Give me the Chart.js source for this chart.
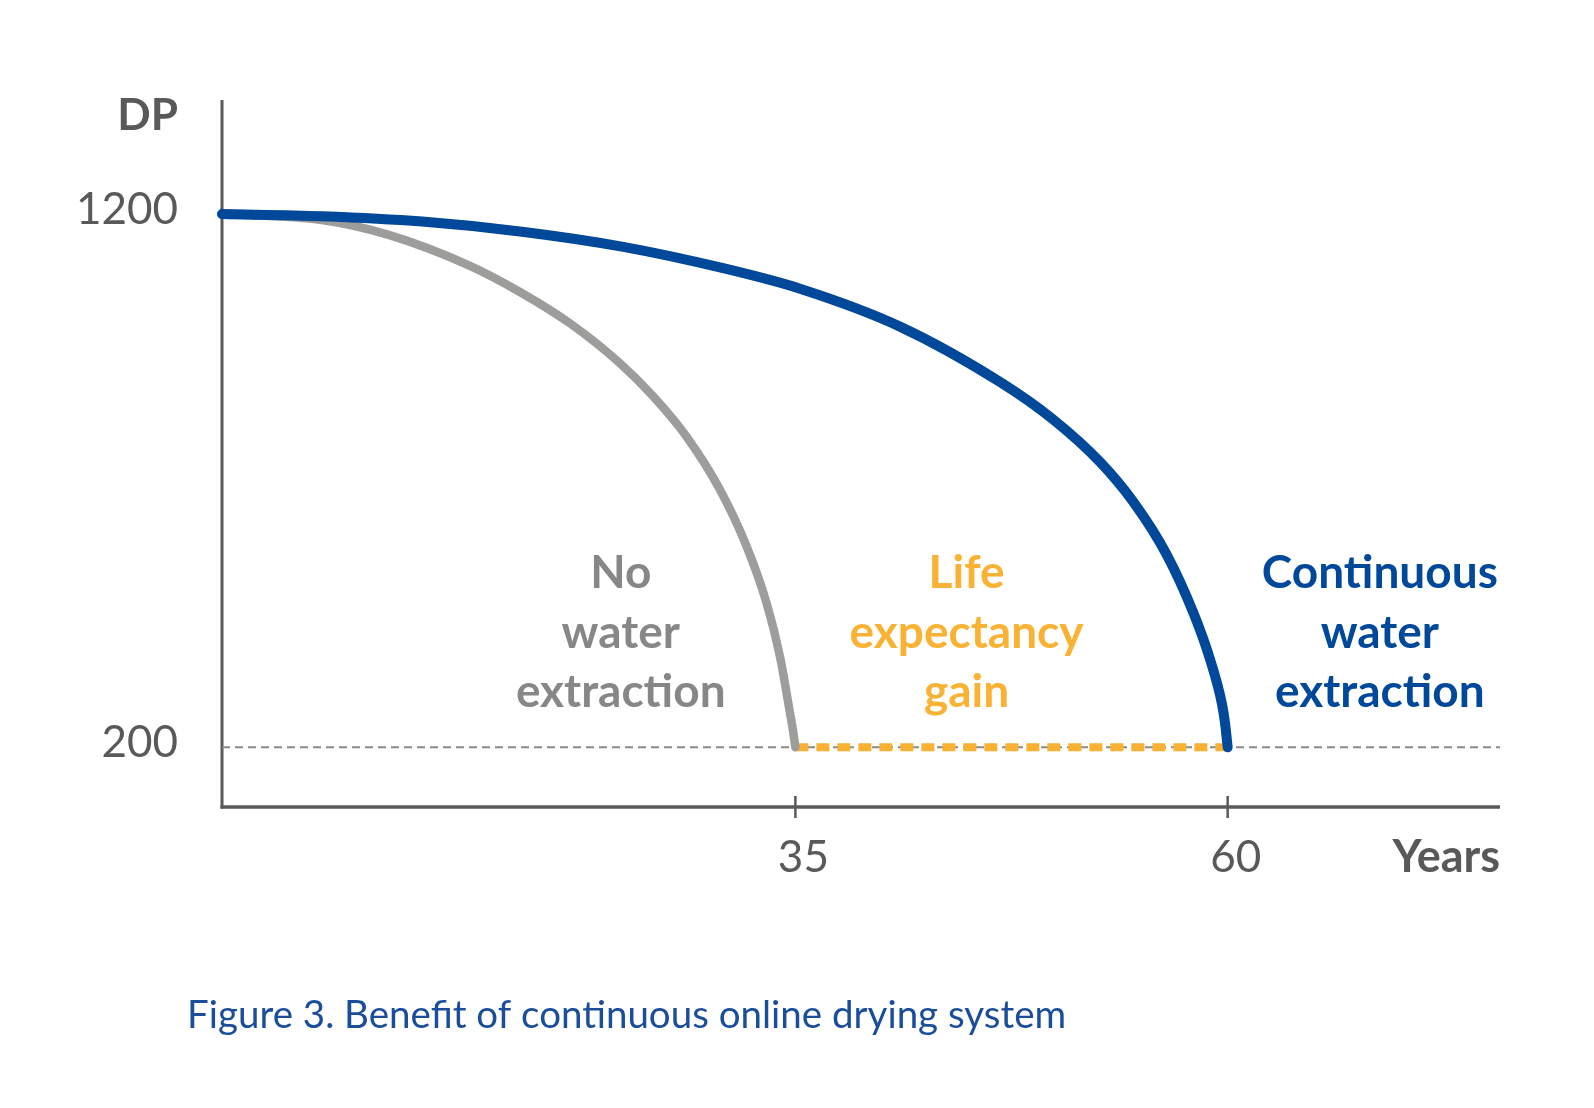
<!DOCTYPE html>
<html>
<head>
<meta charset="utf-8">
<title>Figure 3. Benefit of continuous online drying system</title>
<script src="https://cdn.jsdelivr.net/npm/chart.js@4/dist/chart.umd.min.js"></script>
<style>
  html, body { margin: 0; padding: 0; background: #ffffff; }
  #wrap { width: 1594px; height: 1108px; position: relative; }
</style>
</head>
<body>
<div id="wrap"><canvas id="dp-chart" width="1594" height="1108"></canvas></div>
<script>
// ---- data ----
const xTicks = [35, 60];
const yTicks = [200, 1200];
const endOfLifeDP = 200;

// no water extraction (grey curve)
const noExtractionYears = [1.84, 7.62, 11.48, 16.18, 19.07, 21.97, 24.86, 26.78, 28.72, 30.64, 32.19, 33.34, 34.11, 34.69, 34.86, 35];
const noExtractionDP    = [1200, 1189, 1161, 1103, 1054, 995, 920, 858, 782, 683, 576, 470, 370, 264, 232, 200];

// continuous water extraction (blue curve)
const continuousYears = [1.84, 7.62, 13.41, 19.19, 24.97, 30.76, 35.27, 41.05, 46.84, 49.90, 52.62, 54.55, 56.48, 58.02, 58.99, 59.66, 59.85, 60];
const continuousDP    = [1200, 1196, 1186, 1167, 1139, 1099, 1060, 989, 885, 815, 735, 660, 561, 452, 364, 283, 245, 200];

// life expectancy gain (orange dashed segment)
const gainYears = [35, 60];

const xRange = [1.84, 75.75];
const yRange = [88, 1414];

const labelBlocks = [
    { lines: ['No', 'water', 'extraction'], year: 24.9, color: '#878787' },
    { lines: ['Life', 'expectancy', 'gain'], year: 44.9, color: '#f9b233' },
    { lines: ['Continuous', 'water', 'extraction'], year: 68.8, color: '#00489a' }
];

const FONT = 'Lato, "Open Sans", "Liberation Sans", sans-serif';
const AXIS = '#595959';

const pts = (xs, ys) => xs.map((x, i) => ({ x: x, y: ys[i] }));

// axes, tick marks and all the texts
const figurePlugin = {
    id: 'figure',
    beforeDatasetsDraw(chart) {
        const { ctx, chartArea: a, scales: { x } } = chart;
        ctx.save();
        ctx.strokeStyle = AXIS;
        ctx.lineCap = 'butt';
        // y axis
        ctx.lineWidth = 3;
        ctx.beginPath();
        ctx.moveTo(a.left, a.top);
        ctx.lineTo(a.left, a.bottom + 1.5);
        ctx.stroke();
        // x axis
        ctx.lineWidth = 3.5;
        ctx.beginPath();
        ctx.moveTo(a.left - 1.5, a.bottom);
        ctx.lineTo(a.right, a.bottom);
        ctx.stroke();
        // tick marks crossing the x axis
        ctx.lineWidth = 2.5;
        xTicks.forEach(t => {
            const px = x.getPixelForValue(t);
            ctx.beginPath();
            ctx.moveTo(px, a.bottom - 11);
            ctx.lineTo(px, a.bottom + 11);
            ctx.stroke();
        });
        ctx.restore();
    },
    afterDraw(chart) {
        const { ctx, chartArea: a, scales: { x, y } } = chart;
        ctx.save();
        ctx.fillStyle = AXIS;
        ctx.textBaseline = 'alphabetic';

        // y tick labels + title
        ctx.font = '44px ' + FONT;
        ctx.textAlign = 'right';
        yTicks.forEach(t => ctx.fillText(String(t), 178, y.getPixelForValue(t) + 10));
        ctx.font = 'bold 44px ' + FONT;
        ctx.fillText('DP', 178, 130);

        // x tick labels + title
        ctx.font = '44px ' + FONT;
        ctx.textAlign = 'center';
        xTicks.forEach(t => ctx.fillText(String(t), x.getPixelForValue(t) + 8, 872));
        ctx.font = 'bold 45px ' + FONT;
        ctx.textAlign = 'right';
        ctx.fillText('Years', a.right, 872);

        // curve labels
        ctx.font = 'bold 46px ' + FONT;
        ctx.textAlign = 'center';
        labelBlocks.forEach(b => {
            ctx.fillStyle = b.color;
            b.lines.forEach((ln, i) => ctx.fillText(ln, x.getPixelForValue(b.year), 588 + i * 59.5));
        });

        // caption
        ctx.fillStyle = '#1a4d9a';
        ctx.font = '38.5px ' + FONT;
        ctx.textAlign = 'left';
        ctx.fillText('Figure 3. Benefit of continuous online drying system', 187, 1028);
        ctx.restore();
    }
};

new Chart(document.getElementById('dp-chart'), {
    type: 'scatter',
    data: {
        datasets: [
            { label: 'Continuous water extraction', data: pts(continuousYears, continuousDP), showLine: true, borderColor: '#00489a', borderWidth: 10, borderCapStyle: 'round', borderJoinStyle: 'round', cubicInterpolationMode: 'monotone', pointRadius: 0, clip: false },
            { label: 'No water extraction', data: pts(noExtractionYears, noExtractionDP), showLine: true, borderColor: '#9d9d9c', borderWidth: 8.5, borderCapStyle: 'round', borderJoinStyle: 'round', cubicInterpolationMode: 'monotone', pointRadius: 0, clip: false },
            { label: 'Life expectancy gain', data: pts(gainYears, gainYears.map(() => endOfLifeDP)), showLine: true, borderColor: '#f8b133', borderWidth: 8, borderDash: [13, 8], pointRadius: 0, clip: false },
            { label: 'End of life', data: pts(xRange, xRange.map(() => endOfLifeDP)), showLine: true, borderColor: '#8a8a8a', borderWidth: 2, borderDash: [8, 5], pointRadius: 0, clip: false }
        ]
    },
    options: {
        responsive: false,
        animation: false,
        layout: { padding: { left: 222, right: 94, top: 100, bottom: 301 } },
        plugins: { legend: { display: false }, tooltip: { enabled: false } },
        scales: {
            x: { type: 'linear', min: xRange[0], max: xRange[1], display: false },
            y: { type: 'linear', min: yRange[0], max: yRange[1], display: false }
        }
    },
    plugins: [figurePlugin]
});
</script>
</body>
</html>
